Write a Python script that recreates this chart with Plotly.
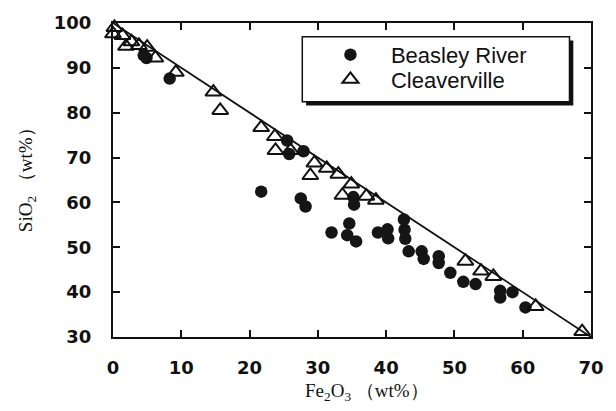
import plotly.graph_objects as go

# Beasley River (filled circles)
br_fe2o3 = [4.5, 4.9, 8.3, 21.7, 25.5, 25.8, 27.9, 27.5, 28.2, 35.2, 35.3, 32.0, 34.6, 34.3,
            35.6, 38.8, 40.2, 40.3, 42.6, 42.7, 42.8, 43.3, 45.2, 45.5, 47.7, 47.7, 49.4,
            51.3, 53.1, 56.7, 56.7, 58.5, 60.4]
br_sio2 = [92.8, 92.2, 87.6, 62.4, 73.8, 70.8, 71.4, 60.9, 59.1, 61.2, 59.5, 53.3, 55.3, 52.7,
           51.3, 53.3, 54.0, 52.0, 56.2, 53.9, 51.9, 49.1, 49.1, 47.4, 48.0, 46.5, 44.3,
           42.3, 41.8, 40.3, 38.8, 40.0, 36.6]

# Cleaverville (open triangles)
cv_fe2o3 = [0.2, 0.0, 1.4, 1.9, 2.7, 3.8, 5.0, 6.2, 9.2, 14.7, 15.7, 21.7, 23.7, 23.8, 26.0,
            29.5, 28.9, 31.3, 33.0, 34.9, 33.6, 37.1, 38.5, 51.6, 53.9, 55.7, 61.9, 68.7]
cv_sio2 = [99.0, 97.6, 97.2, 94.8, 95.8, 95.0, 94.6, 92.2, 89.0, 84.6, 80.5, 76.7, 74.7, 71.6, 71.6,
           68.8, 66.0, 67.6, 66.3, 64.1, 61.6, 61.4, 60.5, 46.9, 44.7, 43.5, 36.8, 31.2]

# Dilution line
line_x = [0, 70]
line_y = [100, 30]

x_ticks = [0, 10, 20, 30, 40, 50, 60, 70]
y_ticks = [30, 40, 50, 60, 70, 80, 90, 100]

fig = go.Figure()
fig.add_trace(go.Scatter(x=line_x, y=line_y, mode="lines",
                         line=dict(color="#111", width=1.8), showlegend=False, cliponaxis=False))
fig.add_trace(go.Scatter(x=br_fe2o3, y=br_sio2, mode="markers", name="Beasley River",
                         legend="legend",
                         marker=dict(symbol="circle", size=12.5, color="#151515"), cliponaxis=False))
fig.add_trace(go.Scatter(x=cv_fe2o3, y=cv_sio2, mode="markers", name="Cleaverville",
                         legend="legend2",
                         marker=dict(symbol="triangle-up-open", size=14, color="#111",
                                     line=dict(width=2, color="#111")), cliponaxis=False))

axis_common = dict(ticks="inside", ticklen=7, tickwidth=2, tickcolor="#111",
                   showline=True, linewidth=2, linecolor="#111", mirror="ticks",
                   showgrid=False, zeroline=False,
                   tickfont=dict(family="DejaVu Sans", size=18, color="#111", weight=700))

fig.update_xaxes(range=[0, 70], tickvals=x_ticks, ticktext=[str(v) for v in x_ticks],
                 ticklabelstandoff=13, **axis_common)
fig.update_yaxes(range=[30, 100], tickvals=y_ticks, ticktext=[str(v) for v in y_ticks],
                 ticklabelstandoff=16, **axis_common)

# legend box with shadow
fig.add_shape(type="rect", xref="paper", yref="paper", x0=0.404, x1=0.963, y0=0.737, y1=0.944,
              fillcolor="#111", line=dict(width=0), layer="below")
fig.add_shape(type="rect", xref="paper", yref="paper", x0=0.396, x1=0.955, y0=0.749, y1=0.956,
              fillcolor="white", line=dict(color="#111", width=1.5), layer="below")

legend_common = dict(xanchor="left", yanchor="top", bgcolor="rgba(0,0,0,0)", borderwidth=0,
                     itemwidth=71, font=dict(family="Liberation Sans, Arial", size=22, color="#111"))

fig.update_layout(
    width=616, height=411,
    margin=dict(l=113, r=18, t=18, b=74),
    paper_bgcolor="white", plot_bgcolor="white",
    showlegend=True,
    legend=dict(x=0.412, y=0.9655, **legend_common),
    legend2=dict(x=0.412, y=0.887, **legend_common),
    annotations=[
        dict(text="Fe<sub>2</sub>O<sub>3</sub> （wt%）", xref="paper", yref="paper",
             x=0.532, y=-0.176, xanchor="center", yanchor="middle", showarrow=False,
             font=dict(family="Liberation Serif, Times New Roman, serif", size=19, color="#111")),
        dict(text="SiO<sub>2</sub> （wt%）", xref="paper", yref="paper",
             x=-0.181, y=0.517, xanchor="center", yanchor="middle", showarrow=False, textangle=-90,
             font=dict(family="Liberation Serif, Times New Roman, serif", size=19, color="#111")),
    ],
)

fig.write_html("out.html")
